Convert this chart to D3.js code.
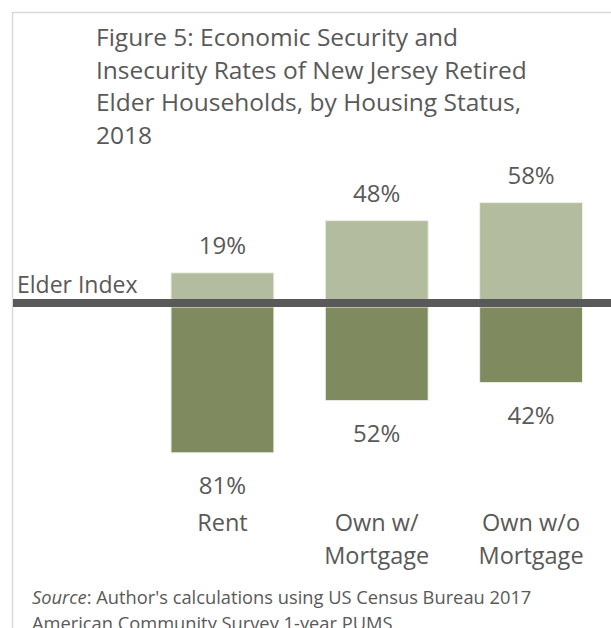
<!DOCTYPE html>
<html>
<head>
<meta charset="utf-8">
<script src="https://cdn.jsdelivr.net/npm/d3@7"></script>
<style>
  html, body { margin: 0; padding: 0; background: #ffffff; }
  svg { display: block; }
  text { font-family: "Open Sans", sans-serif; fill: #595959; }
</style>
</head>
<body>
<svg id="chart" width="611" height="628"></svg>
<script>
// Housing status categories (multi-line labels split on "\n")
const categories = ["Rent", "Own w/\nMortgage", "Own w/o\nMortgage"];
// Share of households above the Elder Index (economically secure), %
const secure = [19, 48, 58];
// Share of households below the Elder Index (economically insecure), %
const insecure = [81, 52, 42];

const titleLines = [
  "Figure 5: Economic Security and",
  "Insecurity Rates of New Jersey Retired",
  "Elder Households, by Housing Status,",
  "2018"
];

const W = 611, H = 628;
const svg = d3.select("#chart");

const colors = { secure: "#b3bc9f", insecure: "#7f8b5f", index: "#595959", frame: "#d9d9d9" };

// Chart frame (top and left edges visible)
svg.append("rect")
  .attr("x", 12.5).attr("y", 12.5)
  .attr("width", W + 20).attr("height", H + 20)
  .attr("fill", "none")
  .attr("stroke", colors.frame)
  .attr("stroke-width", 1.5);

// Title
svg.append("text")
  .attr("x", 96)
  .attr("y", 46)
  .style("font-size", "24.5px")
  .selectAll("tspan")
  .data(titleLines)
  .join("tspan")
  .attr("x", 96)
  .attr("dy", (d, i) => i === 0 ? 0 : 32.7)
  .text(d => d);

// Scales
const x = d3.scaleBand()
  .domain(categories)
  .range([171, 582.5])
  .paddingInner(1 / 3)
  .paddingOuter(0);

const y = d3.scaleLinear()
  .domain([-100, 100])
  .range([307 + 180, 307 - 180]);

const rows = categories.map((c, i) => ({ cat: c, up: secure[i], down: insecure[i] }));

// Secure bars (above the index)
svg.append("g").selectAll("rect")
  .data(rows)
  .join("rect")
  .attr("x", d => x(d.cat))
  .attr("width", x.bandwidth())
  .attr("y", d => y(d.up))
  .attr("height", d => y(0) - y(d.up))
  .attr("fill", colors.secure)
  .attr("stroke", "#eef0e8")
  .attr("stroke-width", 1);

// Insecure bars (below the index)
svg.append("g").selectAll("rect")
  .data(rows)
  .join("rect")
  .attr("x", d => x(d.cat))
  .attr("width", x.bandwidth())
  .attr("y", y(0))
  .attr("height", d => y(-d.down) - y(0))
  .attr("fill", colors.insecure)
  .attr("stroke", "#eef0e8")
  .attr("stroke-width", 1);

// Elder Index line
svg.append("rect")
  .attr("x", 13)
  .attr("y", y(0) - 8)
  .attr("width", W - 13)
  .attr("height", 8)
  .attr("fill", colors.index);

svg.append("text")
  .attr("x", 17)
  .attr("y", y(0) - 14.5)
  .style("font-size", "23px")
  .text("Elder Index");

// Value labels
svg.append("g").selectAll("text")
  .data(rows)
  .join("text")
  .attr("x", d => x(d.cat) + x.bandwidth() / 2)
  .attr("y", d => y(d.up) - 19)
  .attr("text-anchor", "middle")
  .style("font-size", "24px")
  .text(d => d.up + "%");

svg.append("g").selectAll("text")
  .data(rows)
  .join("text")
  .attr("x", d => x(d.cat) + x.bandwidth() / 2)
  .attr("y", d => y(-d.down) + 41)
  .attr("text-anchor", "middle")
  .style("font-size", "24px")
  .text(d => d.down + "%");

// Category labels
svg.append("g").selectAll("text")
  .data(categories)
  .join("text")
  .attr("x", d => x(d) + x.bandwidth() / 2)
  .attr("y", 531)
  .attr("text-anchor", "middle")
  .style("font-size", "23.5px")
  .selectAll("tspan")
  .data(d => d.split("\n").map(t => ({ t, c: d })))
  .join("tspan")
  .attr("x", d => x(d.c) + x.bandwidth() / 2)
  .attr("dy", (d, i) => i === 0 ? 0 : 33)
  .text(d => d.t);

// Source note
const src = svg.append("text")
  .attr("x", 32)
  .attr("y", 604)
  .style("font-size", "18.3px");
src.append("tspan").style("font-style", "italic").text("Source");
src.append("tspan").text(": Author's calculations using US Census Bureau 2017");
svg.append("text")
  .attr("x", 32)
  .attr("y", 630)
  .style("font-size", "18.3px")
  .text("American Community Survey 1-year PUMS");
</script>
</body>
</html>
